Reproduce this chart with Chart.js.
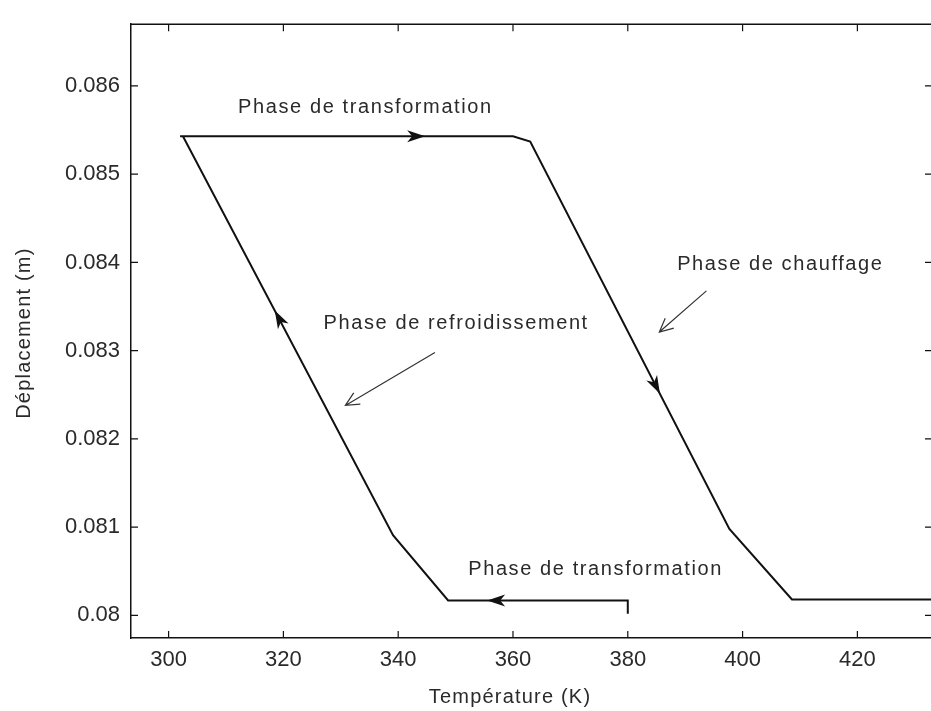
<!DOCTYPE html>
<html>
<head>
<meta charset="utf-8">
<script src="https://cdn.jsdelivr.net/npm/chart.js@4"></script>
<style>
  html, body { margin: 0; padding: 0; background: #fff; overflow: hidden; }
  canvas { display: block; }
</style>
</head>
<body>
<canvas id="cycle" width="934" height="711"></canvas>
<script>
// displacement / temperature cycle
const pathTemp = [380, 380, 348.7, 339.1, 302.5, 302.0, 360.0, 363.0, 397.7, 408.6, 433];
const pathDisp = [0.08002, 0.08017, 0.08017, 0.08091, 0.08543, 0.08543, 0.08543, 0.08537, 0.08098, 0.08018, 0.08018];

const xTickValues = [300, 320, 340, 360, 380, 400, 420];
const yTickValues = [0.080, 0.081, 0.082, 0.083, 0.084, 0.085, 0.086];
const yTickLabels = ["0.08", "0.081", "0.082", "0.083", "0.084", "0.085", "0.086"];

// direction arrows sitting on the curve (tail -> tip)
const flowTailTemp = [338.0, 361.0, 321.0, 383.0];
const flowTailDisp = [0.08543, 0.08017, 0.08315, 0.08284];
const flowTipTemp = [344.7, 355.5, 318.5, 385.6];
const flowTipDisp = [0.08543, 0.08017, 0.083455, 0.082511];

// thin pointer arrows from the notes
const pointerTailTemp = [346.4, 393.7];
const pointerTailDisp = [0.08298, 0.083678];
const pointerTipTemp = [330.8, 385.5];
const pointerTipDisp = [0.08238, 0.083211];

const noteText = ["Phase de transformation", "Phase de refroidissement", "Phase de chauffage", "Phase de transformation"];
const noteTemp = [312.1, 327.0, 388.6, 352.2];
const noteDisp = [0.085756, 0.083311, 0.083978, 0.080522];

const INK = "#111";
const TEXT = "#2a2a2a";
const FONT = "Liberation Sans, Arial, sans-serif";

function filledHead(ctx, x0, y0, x1, y1) {
    const a = Math.atan2(y1 - y0, x1 - x0);
    const ux = Math.cos(a), uy = Math.sin(a);
    const nx = -uy, ny = ux;
    const L = 18, W = 6, notch = 5;
    ctx.beginPath();
    ctx.moveTo(x1, y1);
    ctx.lineTo(x1 - L * ux + W * nx, y1 - L * uy + W * ny);
    ctx.lineTo(x1 - (L - notch) * ux, y1 - (L - notch) * uy);
    ctx.lineTo(x1 - L * ux - W * nx, y1 - L * uy - W * ny);
    ctx.closePath();
    ctx.fill();
}

function openArrow(ctx, x0, y0, x1, y1) {
    const a = Math.atan2(y1 - y0, x1 - x0);
    const L = 15, spread = 0.45;
    ctx.beginPath();
    ctx.moveTo(x0, y0);
    ctx.lineTo(x1, y1);
    ctx.moveTo(x1 - L * Math.cos(a - spread), y1 - L * Math.sin(a - spread));
    ctx.lineTo(x1, y1);
    ctx.lineTo(x1 - L * Math.cos(a + spread), y1 - L * Math.sin(a + spread));
    ctx.stroke();
}

const decorations = {
    id: "decorations",
    afterDraw(chart) {
        const ctx = chart.ctx;
        const area = chart.chartArea;
        const xs = chart.scales.x, ys = chart.scales.y;
        ctx.save();

        // box: top and right edges
        ctx.strokeStyle = INK;
        ctx.lineWidth = 1.5;
        ctx.beginPath();
        ctx.moveTo(area.left, area.top);
        ctx.lineTo(area.right, area.top);
        ctx.lineTo(area.right, area.bottom);
        ctx.stroke();

        // inward tick marks on all four sides
        const tl = 7;
        ctx.lineWidth = 1.2;
        ctx.beginPath();
        xTickValues.forEach(v => {
            const px = xs.getPixelForValue(v);
            ctx.moveTo(px, area.bottom); ctx.lineTo(px, area.bottom - tl);
            ctx.moveTo(px, area.top); ctx.lineTo(px, area.top + tl);
        });
        yTickValues.forEach(v => {
            const py = ys.getPixelForValue(v);
            ctx.moveTo(area.left, py); ctx.lineTo(area.left + tl, py);
            ctx.moveTo(area.right, py); ctx.lineTo(area.right - tl, py);
        });
        ctx.stroke();

        // flow arrows on the curve
        ctx.fillStyle = INK;
        flowTipTemp.forEach((t, i) => {
            filledHead(ctx,
                xs.getPixelForValue(flowTailTemp[i]), ys.getPixelForValue(flowTailDisp[i]),
                xs.getPixelForValue(t), ys.getPixelForValue(flowTipDisp[i]));
        });

        // pointers
        ctx.strokeStyle = "#333";
        ctx.lineWidth = 1.2;
        pointerTipTemp.forEach((t, i) => {
            openArrow(ctx,
                xs.getPixelForValue(pointerTailTemp[i]), ys.getPixelForValue(pointerTailDisp[i]),
                xs.getPixelForValue(t), ys.getPixelForValue(pointerTipDisp[i]));
        });

        // notes
        ctx.fillStyle = TEXT;
        ctx.font = "20px " + FONT;
        ctx.letterSpacing = "1.6px";
        ctx.textAlign = "left";
        ctx.textBaseline = "middle";
        noteText.forEach((txt, i) => {
            ctx.fillText(txt, xs.getPixelForValue(noteTemp[i]), ys.getPixelForValue(noteDisp[i]));
        });

        // axis titles
        ctx.font = "20px " + FONT;
        ctx.letterSpacing = "1.2px";
        ctx.textAlign = "center";
        ctx.fillText("Température (K)", area.left + 379, area.bottom + 59);
        ctx.translate(24, (area.top + area.bottom) / 2 + 2);
        ctx.rotate(-Math.PI / 2);
        ctx.fillText("Déplacement (m)", 0, 0);
        ctx.restore();
    }
};

new Chart(document.getElementById("cycle"), {
    type: "scatter",
    data: {
        datasets: [
            {
                data: pathTemp.map((t, i) => ({ x: t, y: pathDisp[i] })),
                showLine: true,
                borderColor: INK,
                borderWidth: 2,
                pointRadius: 0,
                tension: 0
            }
        ]
    },
    options: {
        responsive: false,
        animation: false,
        events: [],
        layout: { padding: { top: 12, right: 2, left: 0, bottom: 0 } },
        plugins: {
            legend: { display: false },
            tooltip: { enabled: false }
        },
        scales: {
            x: {
                type: "linear",
                min: 293.45,
                max: 433,
                afterBuildTicks: s => { s.ticks = xTickValues.map(v => ({ value: v })); },
                afterFit: s => { s.height = 73; },
                ticks: {
                    color: TEXT,
                    font: { family: FONT, size: 22 },
                    padding: 9,
                    maxRotation: 0,
                    autoSkip: false,
                    callback: v => String(v)
                },
                grid: { drawOnChartArea: false, drawTicks: false },
                border: { color: INK, width: 1.5 }
            },
            y: {
                type: "linear",
                min: 0.079744,
                max: 0.0867,
                afterBuildTicks: s => { s.ticks = yTickValues.map(v => ({ value: v })); },
                afterFit: s => { s.width = 131; },
                ticks: {
                    color: TEXT,
                    font: { family: FONT, size: 22 },
                    padding: 11,
                    autoSkip: false,
                    callback: (v, i) => yTickLabels[i]
                },
                grid: { drawOnChartArea: false, drawTicks: false },
                border: { color: INK, width: 1.5 }
            }
        }
    },
    plugins: [decorations]
});
</script>
</body>
</html>
